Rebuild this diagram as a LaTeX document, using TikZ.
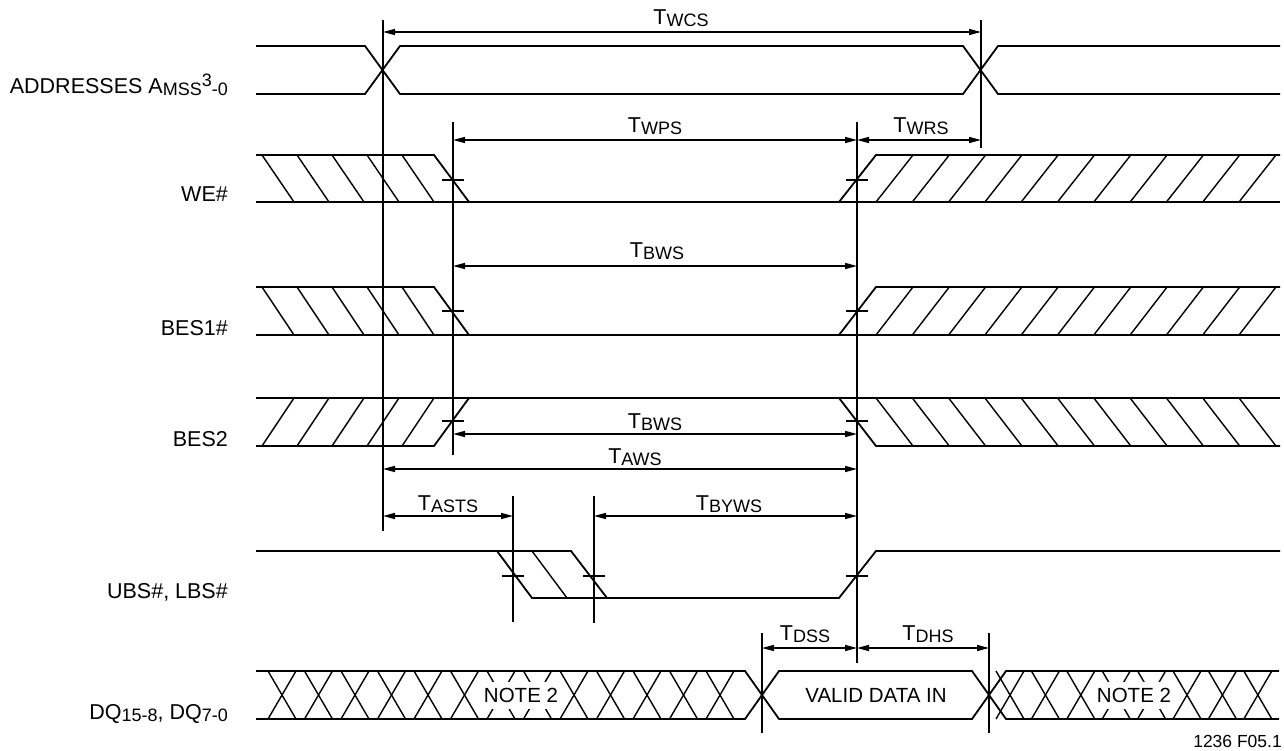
\documentclass[tikz,border=0pt]{standalone}
\usepackage{fontspec}
\setmainfont{Liberation Sans}
\usetikzlibrary{arrows.meta}
\newcommand{\lsub}[1]{\raisebox{-2pt}{\fontsize{18}{18}\selectfont #1}}
\newcommand{\lsup}[1]{\raisebox{7.5pt}{\fontsize{18}{18}\selectfont #1}}
\newcommand{\tsym}[1]{T\lsub{#1}}
\begin{document}
\begin{tikzpicture}[x=1pt,y=-1pt,
  sig/.style={line width=1.8pt, line join=miter},
  hat/.style={line width=1.4pt},
  vl/.style={line width=1.7pt},
  dim/.style={line width=1.5pt, {Triangle[length=12pt,width=6pt]}-{Triangle[length=12pt,width=6pt]}},
  tck/.style={line width=1.5pt},
  lab/.style={anchor=base east, font=\fontsize{21.5}{24}\selectfont, inner sep=0pt},
  tlab/.style={anchor=base, font=\fontsize{21.5}{24}\selectfont, inner sep=0pt},
  note/.style={fill=white, font=\fontsize{20.5}{24}\selectfont, inner xsep=2pt, inner ysep=0pt, minimum height=27pt}]
\fill[white] (0,0) rectangle (1284,751);
\useasboundingbox (0,0) rectangle (1284,751);

% ---------------- ADDRESSES
\draw[sig] (256,46) -- (365,46) -- (400,94) -- (963,94) -- (998,46) -- (1280,46);
\draw[sig] (256,94) -- (365,94) -- (400,46) -- (963,46) -- (998,94) -- (1280,94);

% ---------------- WE#
\draw[sig] (256,155) -- (434,155) -- (469,202);
\draw[sig] (256,202) -- (1280,202);
\draw[sig] (839,202) -- (876,155) -- (1280,155);
\foreach \x in {262,297,332,367,402} \draw[hat] (\x,155) -- (\x+32,202);
\foreach \k in {0,...,10} \draw[hat] ({876+36.3*\k},202) -- ({913+36.3*\k},155);

% ---------------- BES1#
\draw[sig] (256,287) -- (434,287) -- (469,335);
\draw[sig] (256,335) -- (1280,335);
\draw[sig] (839,335) -- (876,287) -- (1280,287);
\foreach \x in {262,297,332,367,402} \draw[hat] (\x,287) -- (\x+32,335);
\foreach \k in {0,...,10} \draw[hat] ({876+36.3*\k},335) -- ({913+36.3*\k},287);

% ---------------- BES2
\draw[sig] (256,446) -- (434,446) -- (469,398);
\draw[sig] (256,398) -- (1280,398);
\draw[sig] (839,398) -- (876,446) -- (1280,446);
\foreach \x in {262,297,332,367,402} \draw[hat] (\x,446) -- (\x+32,398);
\foreach \k in {0,...,10} \draw[hat] ({876+36.3*\k},398) -- ({913+36.3*\k},446);

% ---------------- UBS#, LBS#
\draw[sig] (256,551) -- (571,551) -- (607,598);
\draw[sig] (497,551) -- (532,598) -- (839,598) -- (876,551) -- (1280,551);
\draw[hat] (532,551) -- (567,598);

% ---------------- DQ
\draw[sig] (256,671) -- (745,671) -- (779,719) -- (972,719) -- (1006,671) -- (1279,671);
\draw[sig] (256,719) -- (745,719) -- (779,671) -- (972,671) -- (1006,719) -- (1279,719);
\foreach \k in {0,...,12} {
  \draw[hat] ({268+36.5*\k},671) -- ({296+36.5*\k},719);
  \draw[hat] ({268+36.5*\k},719) -- ({296+36.5*\k},671);
}
\foreach \k in {0,...,7} {
  \draw[hat] ({996+35.4*\k},671) -- ({1024+35.4*\k},719);
  \draw[hat] ({996+35.4*\k},719) -- ({1024+35.4*\k},671);
}
\node[note] (n1) at (521,695) {NOTE 2};
\node[note] (n2) at (1134,695) {NOTE 2};
\node[font=\fontsize{20.5}{24}\selectfont] (valid) at (876,695) {VALID DATA IN};

% ---------------- vertical reference lines
\draw[vl] (383,20) -- (383,531);
\draw[vl] (453,122) -- (453,455);
\draw[vl] (857,122) -- (857,663);
\draw[vl] (981,20) -- (981,148);
\draw[vl] (513,496) -- (513,622);
\draw[vl] (594,496) -- (594,623);
\draw[vl] (762,633) -- (762,733);
\draw[vl] (989,633) -- (989,733);

% ticks
\foreach \p in {(453,180),(857,180),(453,311),(857,311),(453,421),(857,421),(513,576),(594,576),(857,576)}
  \draw[tck] \p ++(-11,0) -- ++(22,0);

% ---------------- dimension arrows
\draw[dim] (383,32) -- (981,32);
\draw[dim] (453,140) -- (857,140);
\draw[dim] (857,140) -- (981,140);
\draw[dim] (453,266) -- (857,266);
\draw[dim] (453,434) -- (857,434);
\draw[dim] (383,469) -- (857,469);
\draw[dim] (383,516) -- (513,516);
\draw[dim] (594,516) -- (857,516);
\draw[dim] (762,648) -- (857,648);
\draw[dim] (857,648) -- (989,648);

\node[tlab] (twcs) at (681,25) {\tsym{WCS}};
\node[tlab] (twps) at (655,133) {\tsym{WPS}};
\node[tlab] (twrs) at (921,133) {\tsym{WRS}};
\node[tlab] (tbws1) at (657,258) {\tsym{BWS}};
\node[tlab] (tbws2) at (655,428) {\tsym{BWS}};
\node[tlab] (taws) at (635,463) {\tsym{AWS}};
\node[tlab] (tasts) at (448,510) {\tsym{ASTS}};
\node[tlab] (tbyws) at (729,510) {\tsym{BYWS}};
\node[tlab] (tdss) at (805,640) {\tsym{DSS}};
\node[tlab] (tdhs) at (928,640) {\tsym{DHS}};

% ---------------- signal names
\node[lab] (la) at (228,94) {ADDRESSES A\lsub{MSS}\lsup{3}\lsub{-0}};
\node[lab] (lwe) at (228,202) {WE\#};
\node[lab] (lb1) at (228,335) {BES1\#};
\node[lab] (lb2) at (228,446) {BES2};
\node[lab] (lubs) at (228,598) {UBS\#, LBS\#};
\node[lab] (ldq) at (228,719) {DQ\lsub{15-8}, DQ\lsub{7-0}};

\node[anchor=base east, font=\fontsize{17.5}{18}\selectfont, inner sep=0pt] (fig) at (1282,747) {1236 F05.1};
\end{tikzpicture}
\end{document}
